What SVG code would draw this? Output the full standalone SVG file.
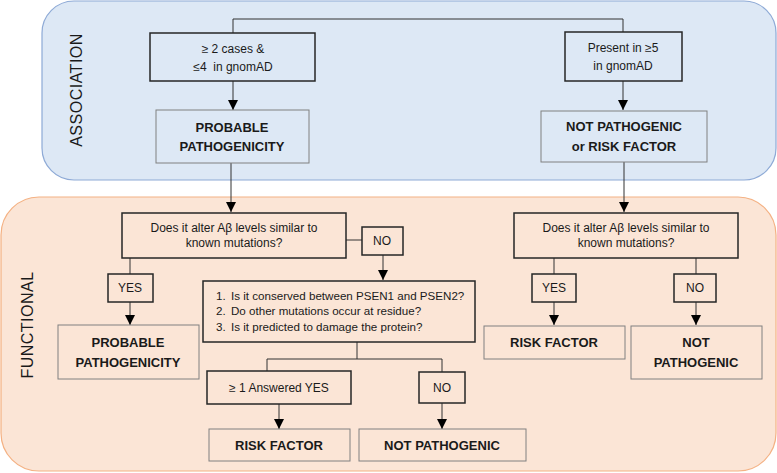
<svg xmlns="http://www.w3.org/2000/svg" width="777" height="473" viewBox="0 0 777 473">
<defs>
<marker id="ah" viewBox="0 0 10 10" refX="10" refY="5" markerWidth="10" markerHeight="10" markerUnits="userSpaceOnUse" orient="auto">
<path d="M0,0 L10,5 L0,10 z" fill="#000"/>
</marker>
</defs>
<style>
text{font-family:"Liberation Sans",Arial,sans-serif;fill:#1a1a1a;text-anchor:middle}
.t{font-size:12px}
.qt{font-size:11.6px;text-anchor:start}
.b{font-size:13px;font-weight:bold}
.lbl{font-size:16px;letter-spacing:0.5px}
.q{fill:none;stroke:#262626;stroke-width:1.5}
.o{fill:none;stroke:#808080;stroke-width:1}
.c{fill:none;stroke:#333;stroke-width:1}
.a{fill:none;stroke:#333;stroke-width:1;marker-end:url(#ah)}
</style>
<g id="panel-association">
<rect x="42" y="1" width="734" height="179" rx="32" fill="#dde8f5" stroke="#8eaad6" stroke-width="1.2"/>
<text class="lbl" transform="translate(82,90) rotate(-90)">ASSOCIATION</text>
</g>
<g id="panel-functional">
<rect x="1" y="197" width="775" height="274" rx="38" fill="#fbe5d6" stroke="#f4b183" stroke-width="1.2"/>
<text class="lbl" transform="translate(33,325) rotate(-90)">FUNCTIONAL</text>
</g>
<g id="connectors">
<path class="c" d="M233,33 V19 H623 V32"/>
<path class="a" d="M233,81 V110"/>
<path class="a" d="M623,81 V110"/>
<path class="a" d="M231,163 V212"/>
<path class="a" d="M624,162 V212"/>
<path class="c" d="M346,240 H362"/>
<path class="a" d="M383,255 V280"/>
<path class="c" d="M130,258 V274"/>
<path class="a" d="M130,302 V325"/>
<path class="c" d="M357,342 V359 M267,359 H442 M267,359 V371 M442,359 V372"/>
<path class="a" d="M279,404 V429"/>
<path class="a" d="M442,403 V429"/>
<path class="c" d="M554,258 V274"/>
<path class="a" d="M554,302 V325"/>
<path class="c" d="M696,258 V274"/>
<path class="a" d="M696,302 V325"/>
</g>
<g id="n-cases">
<rect class="q" x="150" y="33" width="165" height="48"/>
<text class="t" x="233" y="53">≥ 2 cases &amp;</text>
<text class="t" x="233" y="71" xml:space="preserve">≤4  in gnomAD</text>
</g>
<g id="n-present">
<rect class="q" x="565" y="32" width="117" height="49"/>
<text class="t" x="623" y="52">Present in ≥5</text>
<text class="t" x="623" y="70">in gnomAD</text>
</g>
<g id="n-prob-assoc">
<rect class="o" x="156" y="110" width="153" height="53"/>
<text class="b" x="232" y="132">PROBABLE</text>
<text class="b" x="232" y="151">PATHOGENICITY</text>
</g>
<g id="n-notpath-assoc">
<rect class="o" x="541" y="111" width="166" height="51"/>
<text class="b" x="624" y="131">NOT PATHOGENIC</text>
<text class="b" x="624" y="151">or RISK FACTOR</text>
</g>
<g id="n-abeta-left">
<rect class="q" x="122" y="213" width="224" height="45"/>
<text class="t" x="234" y="232">Does it alter Aβ levels similar to</text>
<text class="t" x="234" y="247">known mutations?</text>
</g>
<g id="n-no-left">
<rect class="q" x="362" y="227" width="41" height="28"/>
<text class="t" x="382" y="245">NO</text>
</g>
<g id="n-yes-left">
<rect class="q" x="108" y="274" width="45" height="28"/>
<text class="t" x="130" y="292">YES</text>
</g>
<g id="n-questions">
<rect class="q" x="203" y="281" width="272" height="61"/>
<text class="qt" x="216" y="300">1.</text>
<text class="qt" x="231" y="300">Is it conserved between PSEN1 and PSEN2?</text>
<text class="qt" x="216" y="315">2.</text>
<text class="qt" x="231" y="315">Do other mutations occur at residue?</text>
<text class="qt" x="216" y="331">3.</text>
<text class="qt" x="231" y="331">Is it predicted to damage the protein?</text>
</g>
<g id="n-prob-func">
<rect class="o" x="58" y="325" width="141" height="54"/>
<text class="b" x="128" y="347">PROBABLE</text>
<text class="b" x="128" y="367">PATHOGENICITY</text>
</g>
<g id="n-answered">
<rect class="q" x="207" y="371" width="144" height="33"/>
<text class="t" x="279" y="392">≥ 1 Answered YES</text>
</g>
<g id="n-no-bottom">
<rect class="q" x="419" y="372" width="46" height="31"/>
<text class="t" x="442" y="392">NO</text>
</g>
<g id="n-risk-bottom">
<rect class="o" x="209" y="429" width="141" height="32"/>
<text class="b" x="279" y="450">RISK FACTOR</text>
</g>
<g id="n-notpath-bottom">
<rect class="o" x="359" y="429" width="167" height="32"/>
<text class="b" x="442" y="450">NOT PATHOGENIC</text>
</g>
<g id="n-abeta-right">
<rect class="q" x="514" y="213" width="224" height="45"/>
<text class="t" x="626" y="232">Does it alter Aβ levels similar to</text>
<text class="t" x="626" y="247">known mutations?</text>
</g>
<g id="n-yes-right">
<rect class="q" x="532" y="274" width="44" height="28"/>
<text class="t" x="554" y="292">YES</text>
</g>
<g id="n-no-right">
<rect class="q" x="674" y="274" width="42" height="28"/>
<text class="t" x="695" y="292">NO</text>
</g>
<g id="n-risk-right">
<rect class="o" x="484" y="326" width="141" height="33"/>
<text class="b" x="554" y="347">RISK FACTOR</text>
</g>
<g id="n-notpath-right">
<rect class="o" x="631" y="326" width="131" height="53"/>
<text class="b" x="696" y="347">NOT</text>
<text class="b" x="696" y="367">PATHOGENIC</text>
</g>
</svg>
